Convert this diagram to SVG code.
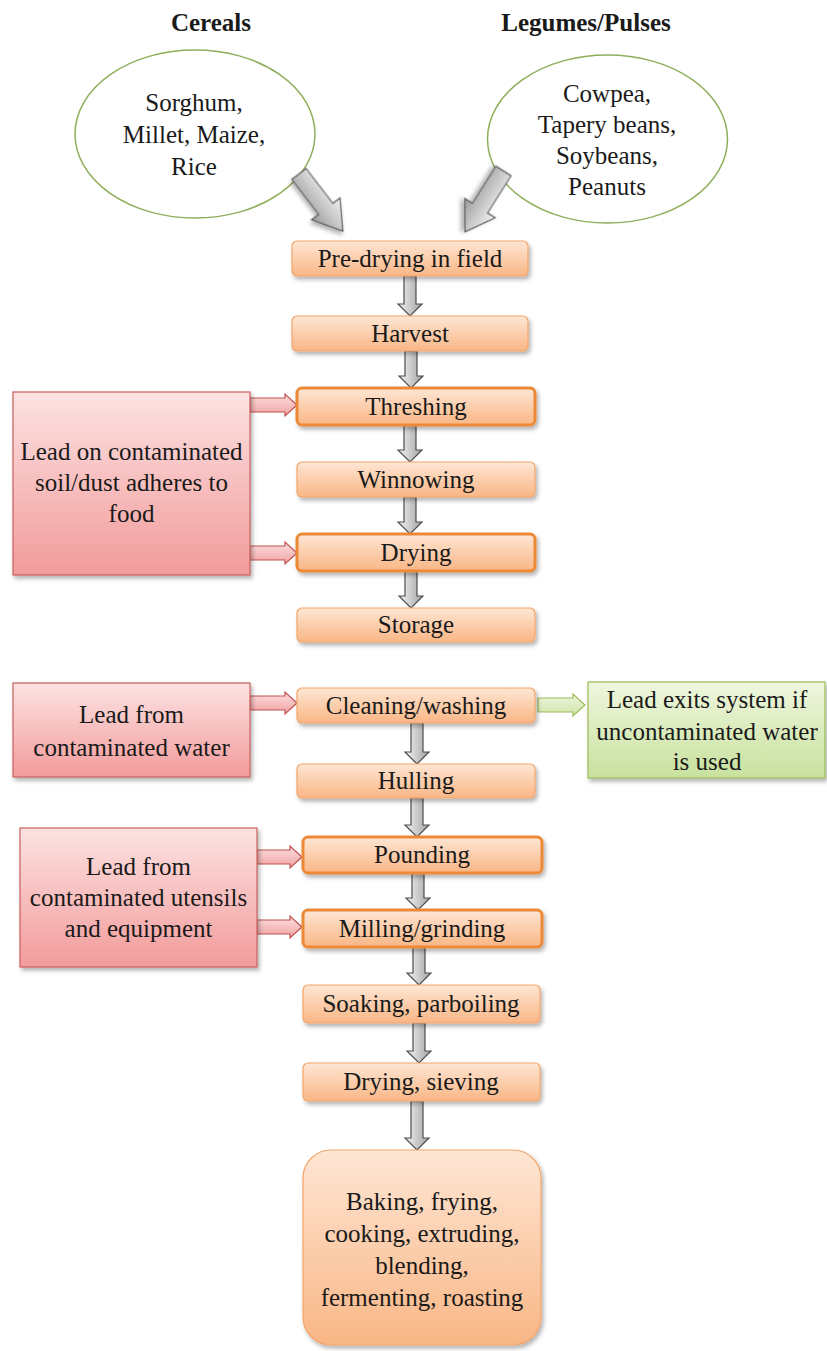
<svg xmlns="http://www.w3.org/2000/svg" width="827" height="1351" viewBox="0 0 827 1351">
<defs>
<linearGradient id="gOr" x1="0" y1="0" x2="0" y2="1"><stop offset="0" stop-color="#fee6d4"/><stop offset="1" stop-color="#f9b685"/></linearGradient>
<linearGradient id="gRed" x1="0" y1="0" x2="0" y2="1"><stop offset="0" stop-color="#fde2e2"/><stop offset="1" stop-color="#f29b9b"/></linearGradient>
<linearGradient id="gGreen" x1="0" y1="0" x2="0" y2="1"><stop offset="0" stop-color="#eff7de"/><stop offset="1" stop-color="#c8e19e"/></linearGradient>
<linearGradient id="gGray" x1="0" y1="0" x2="1" y2="0"><stop offset="0" stop-color="#f4f4f4"/><stop offset="1" stop-color="#a2a2a2"/></linearGradient>
<linearGradient id="gGrayBig" x1="0" y1="0" x2="0" y2="1"><stop offset="0" stop-color="#f2f2f2"/><stop offset="1" stop-color="#9c9c9c"/></linearGradient>
<linearGradient id="gPink" x1="0" y1="0" x2="0" y2="1"><stop offset="0" stop-color="#fcdede"/><stop offset="1" stop-color="#f0a3a3"/></linearGradient>
<linearGradient id="gGrArr" x1="0" y1="0" x2="0" y2="1"><stop offset="0" stop-color="#eef6de"/><stop offset="1" stop-color="#cfe4aa"/></linearGradient>
<filter id="sh" x="-10%" y="-10%" width="130%" height="140%"><feDropShadow dx="2" dy="3" stdDeviation="2" flood-color="#000" flood-opacity="0.3"/></filter>
<style>
text{font-family:"Liberation Serif","Times New Roman",serif;font-size:25px;fill:#1a1a1a;text-anchor:middle}
.title{font-weight:bold}
.ell{fill:#fff;stroke:#8fae5a;stroke-width:1.5}
.ob{fill:url(#gOr);stroke:#f3a56c;stroke-width:1.2;filter:url(#sh)}
.obt{fill:url(#gOr);stroke:#ec8936;stroke-width:3;filter:url(#sh)}
.rb{fill:url(#gRed);stroke:#c9605e;stroke-width:1.2;filter:url(#sh)}
.gb{fill:url(#gGreen);stroke:#9bbb59;stroke-width:1.2;filter:url(#sh)}
.ga{fill:url(#gGray);stroke:#4d4d4d;stroke-width:1.2}
.gbig{fill:url(#gGrayBig);stroke:#555;stroke-width:1.2;filter:url(#sh)}
.pa{fill:url(#gPink);stroke:#c0504d;stroke-width:1.2}
.gra{fill:url(#gGrArr);stroke:#9bbb59;stroke-width:1.2}
</style>
</defs>
<rect width="827" height="1351" fill="#fff"/>

<g id="title-cereals"><text class="title" x="211" y="31">Cereals</text></g>
<g id="title-legumes"><text class="title" x="586" y="31">Legumes/Pulses</text></g>

<g id="cereals">
<ellipse class="ell" cx="195" cy="134" rx="120" ry="84"/>
<text x="194" y="111">Sorghum,</text>
<text x="194" y="143">Millet, Maize,</text>
<text x="194" y="175">Rice</text>
</g>
<g id="legumes">
<ellipse class="ell" cx="607.5" cy="139" rx="120" ry="84"/>
<text x="607" y="102">Cowpea,</text>
<text x="607" y="133">Tapery beans,</text>
<text x="607" y="164">Soybeans,</text>
<text x="607" y="195">Peanuts</text>
</g>

<g id="connectors">
<polygon class="gbig" points="0,-9 44,-9 44,-18 72,0 44,18 44,9 0,9" transform="translate(299,174) rotate(52.5)"/>
<polygon class="gbig" points="0,-9 44,-9 44,-18 72,0 44,18 44,9 0,9" transform="translate(503.5,171) rotate(122.3)"/>
<path class="ga" d="M404 276 L416 276 L416 304 L422 304 L410 316 L398 304 L404 304 Z"/>
<path class="ga" d="M405 351 L417 351 L417 376 L423 376 L411 388 L399 376 L405 376 Z"/>
<path class="ga" d="M404 425 L416 425 L416 450 L422 450 L410 462 L398 450 L404 450 Z"/>
<path class="ga" d="M404 497 L416 497 L416 522 L422 522 L410 534 L398 522 L404 522 Z"/>
<path class="ga" d="M405 571 L417 571 L417 596 L423 596 L411 608 L399 596 L405 596 Z"/>
<path class="ga" d="M411 723 L423 723 L423 752 L429 752 L417 764 L405 752 L411 752 Z"/>
<path class="ga" d="M411 798 L423 798 L423 825 L429 825 L417 837 L405 825 L411 825 Z"/>
<path class="ga" d="M412 873 L424 873 L424 898 L430 898 L418 910 L406 898 L412 898 Z"/>
<path class="ga" d="M413 947 L425 947 L425 973 L431 973 L419 985 L407 973 L413 973 Z"/>
<path class="ga" d="M413 1023 L425 1023 L425 1051 L431 1051 L419 1063 L407 1051 L413 1051 Z"/>
<path class="ga" d="M411 1101 L423 1101 L423 1138 L429 1138 L417 1150 L405 1138 L411 1138 Z"/>
<path class="pa" d="M250 398 L285 398 L285 394 L297 405 L285 416 L285 412 L250 412 Z"/>
<path class="pa" d="M250 546 L285 546 L285 542 L297 553 L285 564 L285 560 L250 560 Z"/>
<path class="pa" d="M250 696 L285 696 L285 692 L297 703 L285 714 L285 710 L250 710 Z"/>
<path class="pa" d="M257 850 L290 850 L290 846 L302 857 L290 868 L290 864 L257 864 Z"/>
<path class="pa" d="M257 920 L290 920 L290 916 L302 927 L290 938 L290 934 L257 934 Z"/>
<path class="gra" d="M538 698 L573 698 L573 694 L585 705 L573 716 L573 712 L538 712 Z"/>
</g>

<g id="predrying"><rect class="ob" x="292" y="241" width="236" height="35" rx="5"/><text x="410" y="267">Pre-drying in field</text></g>
<g id="harvest"><rect class="ob" x="292" y="316" width="236" height="35" rx="5"/><text x="410" y="342">Harvest</text></g>
<g id="threshing"><rect class="obt" x="297" y="388" width="238" height="37" rx="5"/><text x="416" y="415">Threshing</text></g>
<g id="winnowing"><rect class="ob" x="297" y="462" width="238" height="35" rx="5"/><text x="416" y="488">Winnowing</text></g>
<g id="drying"><rect class="obt" x="297" y="534" width="238" height="37" rx="5"/><text x="416" y="561">Drying</text></g>
<g id="storage"><rect class="ob" x="297" y="608" width="238" height="34" rx="5"/><text x="416" y="633">Storage</text></g>
<g id="cleaning"><rect class="ob" x="297" y="688" width="238" height="35" rx="5"/><text x="416" y="714">Cleaning/washing</text></g>
<g id="hulling"><rect class="ob" x="297" y="764" width="238" height="34" rx="5"/><text x="416" y="789">Hulling</text></g>
<g id="pounding"><rect class="obt" x="303" y="837" width="239" height="36" rx="5"/><text x="422" y="863">Pounding</text></g>
<g id="milling"><rect class="obt" x="303" y="910" width="239" height="37" rx="5"/><text x="422" y="937">Milling/grinding</text></g>
<g id="soaking"><rect class="ob" x="303" y="985" width="237" height="38" rx="5"/><text x="421" y="1012">Soaking, parboiling</text></g>
<g id="drying-sieving"><rect class="ob" x="303" y="1063" width="237" height="38" rx="5"/><text x="421" y="1090">Drying, sieving</text></g>
<g id="final">
<rect class="ob" x="303" y="1150" width="238" height="195" rx="28"/>
<text x="422" y="1210">Baking, frying,</text>
<text x="422" y="1242">cooking, extruding,</text>
<text x="422" y="1274">blending,</text>
<text x="422" y="1306">fermenting, roasting</text>
</g>

<g id="lead-soil">
<rect class="rb" x="13" y="392" width="237" height="183"/>
<text x="131.5" y="460">Lead on contaminated</text>
<text x="131.5" y="491">soil/dust adheres to</text>
<text x="131.5" y="522">food</text>
</g>
<g id="lead-water">
<rect class="rb" x="13" y="683" width="237" height="94"/>
<text x="131.5" y="723">Lead from</text>
<text x="131.5" y="756">contaminated water</text>
</g>
<g id="lead-utensils">
<rect class="rb" x="20" y="828" width="237" height="139"/>
<text x="138.5" y="875">Lead from</text>
<text x="138.5" y="906">contaminated utensils</text>
<text x="138.5" y="937">and equipment</text>
</g>
<g id="lead-exits">
<rect class="gb" x="588" y="682" width="237" height="96"/>
<text x="707" y="708">Lead exits system if</text>
<text x="707" y="740">uncontaminated water</text>
<text x="707" y="770">is used</text>
</g>
</svg>
